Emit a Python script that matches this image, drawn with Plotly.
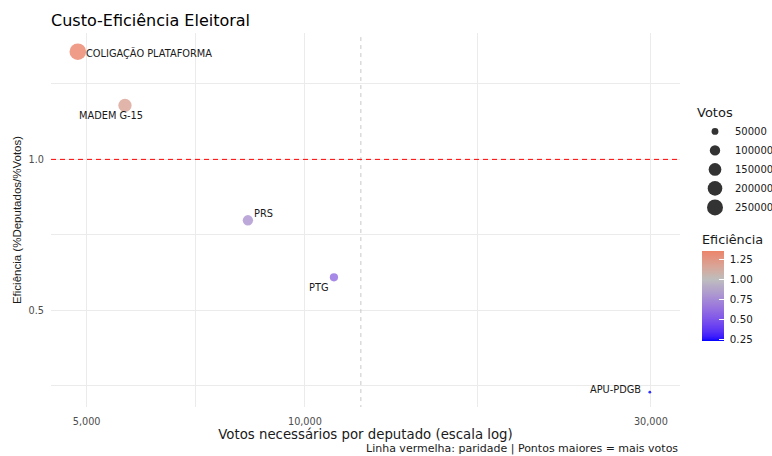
import numpy as np
import plotly.graph_objects as go

# ---------------- data ----------------
partidos = ["COLIGAÇÃO PLATAFORMA", "MADEM G-15", "PRS", "PTG", "APU-PDGB"]
votos_por_deputado = [4862, 5647, 8344, 10965, 29900]
eficiencia = [1.357, 1.179, 0.798, 0.609, 0.228]
votos = [262500, 163800, 100100, 65800, 29900]
legenda_votos = [50000, 100000, 150000, 200000, 250000]
x_ticks = [5000, 10000, 30000]
x_ticktext = ["5,000", "10,000", "30,000"]
y_ticks = [0.5, 1.0]
y_ticktext = ["0.5", "1.0"]
cb_ticks = [0.25, 0.50, 0.75, 1.00, 1.25]

# ---------------- styles ----------------
FONT = "DejaVu Sans, Liberation Sans, Arial, sans-serif"
VFONT = "Liberation Sans, Arial, Helvetica, sans-serif"
GRID = "#EBEBEB"
TXT = "#1a1a1a"
label_style = {
    "COLIGAÇÃO PLATAFORMA": dict(xanchor="left", xshift=6, yshift=-1),
    "MADEM G-15": dict(xanchor="center", xshift=-14, yshift=-10),
    "PRS": dict(xanchor="left", xshift=4, yshift=7),
    "PTG": dict(xanchor="right", xshift=-4, yshift=-10),
    "APU-PDGB": dict(xanchor="right", xshift=-7, yshift=3),
}


# ---- colour scale (gradient2 in Lab: blue - gray - red, midpoint 1) ----
def _lin(c):
    c = c / 255.0
    return c / 12.92 if c <= 0.04045 else ((c + 0.055) / 1.055) ** 2.4


def _gam(c):
    c = 12.92 * c if c <= 0.0031308 else 1.055 * c ** (1 / 2.4) - 0.055
    return int(round(min(max(c, 0), 1) * 255))


M = np.array([[0.4124, 0.3576, 0.1805], [0.2126, 0.7152, 0.0722], [0.0193, 0.1192, 0.9505]])
Mi = np.linalg.inv(M)
WN = np.array([0.95047, 1.0, 1.08883])


def rgb2lab(rgb):
    xyz = M @ np.array([_lin(c) for c in rgb]) / WN
    f = np.where(xyz > 216 / 24389, np.cbrt(xyz), (24389 / 27 * xyz + 16) / 116)
    return np.array([116 * f[1] - 16, 500 * (f[0] - f[1]), 200 * (f[1] - f[2])])


def lab2rgb(lab):
    fy = (lab[0] + 16) / 116
    fx = fy + lab[1] / 500
    fz = fy - lab[2] / 200
    f = np.array([fx, fy, fz])
    xyz = np.where(f ** 3 > 216 / 24389, f ** 3, (116 * f - 16) / (24389 / 27)) * WN
    lin = Mi @ xyz
    return "rgb(%d,%d,%d)" % tuple(_gam(c) for c in lin)


LOW, MID, HIGH = rgb2lab((0, 0, 255)), rgb2lab((190, 190, 190)), rgb2lab((255, 0, 0))
cmin, cmax = min(eficiencia), max(eficiencia)
ext = max(abs(cmin - 1), abs(cmax - 1))
colorscale = []
for p in np.linspace(0, 1, 41):
    v = cmin + p * (cmax - cmin)
    r = (v - 1) / (2 * ext) + 0.5
    if r <= 0.5:
        lab = LOW + (MID - LOW) * (r / 0.5)
    else:
        lab = MID + (HIGH - MID) * ((r - 0.5) / 0.5)
    colorscale.append([float(p), lab2rgb(lab)])

# ---- point size (area scale, like ggplot scale_size) ----
vmin, vmax = min(votos), max(votos)
K = 2.77


def diam(v):
    return K * (1 + 5 * np.sqrt(max(v - vmin, 0) / (vmax - vmin)))


fig = go.Figure()

# mean vertical reference line
mean_x = float(np.mean(votos_por_deputado))
fig.add_trace(go.Scatter(x=[mean_x, mean_x], y=[-5, 5], mode="lines",
                         line=dict(color="#C8C8C8", width=1, dash="4px,4px"),
                         showlegend=False, hoverinfo="skip"))

fig.add_trace(go.Scatter(
    x=votos_por_deputado, y=eficiencia, mode="markers",
    marker=dict(size=[diam(v) for v in votos], color=eficiencia,
                colorscale=colorscale, cmin=cmin, cmax=cmax, opacity=0.8,
                line=dict(width=0),
                colorbar=dict(
                    title=dict(text="Eficiência", side="top",
                               font=dict(size=12.8, color=TXT, family=FONT)),
                    x=(702 - 51) / 629, xanchor="left", xpad=0,
                    y=(407 - 341) / 374, yanchor="bottom", ypad=0,
                    len=110, lenmode="pixels", thickness=22,
                    outlinewidth=0, ticks="inside", ticklen=5, tickcolor="white",
                    tickwidth=1, tickvals=cb_ticks,
                    ticktext=["\u00a0%.2f" % t for t in cb_ticks],
                    tickfont=dict(size=10.3, color=TXT, family=FONT))),
    text=partidos, showlegend=False, hovertemplate="%{text}<extra></extra>"))

# size legend entries
for v in legenda_votos:
    fig.add_trace(go.Scatter(x=[None], y=[None], mode="markers", name=str(v),
                             marker=dict(size=diam(v), color="#333333"),
                             showlegend=True, legendgroup="votos"))

annotations = []
for name, xv, yv in zip(partidos, votos_por_deputado, eficiencia):
    st = label_style[name]
    annotations.append(dict(x=np.log10(xv), y=yv, xref="x", yref="y", text=name,
                            showarrow=False, xanchor=st["xanchor"], yanchor="middle",
                            xshift=st["xshift"], yshift=st["yshift"],
                            font=dict(size=9.8, color=TXT, family=FONT)))
annotations.append(dict(x=1, y=-(448.5 - 407) / 374, xref="paper", yref="paper",
                        text="Linha vermelha: paridade | Pontos maiores = mais votos",
                        showarrow=False, xanchor="right", yanchor="middle",
                        font=dict(size=11, color=TXT, family=FONT)))

fig.update_layout(
    width=772, height=456, autosize=False,
    margin=dict(l=51, r=92, t=33, b=49, autoexpand=False),
    paper_bgcolor="white", plot_bgcolor="white",
    font=dict(family=FONT, color=TXT),
    title=dict(text="Custo-Eficiência Eleitoral", x=51 / 772, xanchor="left",
               y=1 - 20 / 456, yanchor="middle", xref="container",
               font=dict(size=16, color="black", family=FONT)),
    shapes=[dict(type="line", xref="paper", yref="y", x0=0, x1=1, y0=1.0, y1=1.0,
                 line=dict(color="red", width=1, dash="5px,4px"), layer="above")],
    annotations=annotations,
    legend=dict(title=dict(text="Votos", font=dict(size=13, color=TXT, family=FONT)),
                x=(695 - 51) / 629, xanchor="left", y=(407 - 100) / 374, yanchor="top",
                itemsizing="trace", tracegroupgap=0, bgcolor="rgba(0,0,0,0)",
                font=dict(size=10, color=TXT, family=FONT)),
)

fig.update_xaxes(type="log", range=[3.6498, 4.5173], tickvals=x_ticks, ticktext=x_ticktext,
                 showgrid=True, gridcolor=GRID, gridwidth=1.1, zeroline=False, showline=False,
                 ticks="", automargin=False, ticklabelstandoff=7,
                 tickfont=dict(size=9.7, color="#4D4D4D", family=FONT),
                 minor=dict(tickvals=[7071, 17320], showgrid=True, gridcolor=GRID, gridwidth=0.8),
                 title=dict(text="Votos necessários por deputado (escala log)", standoff=3,
                            font=dict(size=13.3, color=TXT, family=FONT)))
fig.update_yaxes(range=[0.179, 1.419], tickvals=y_ticks, ticktext=y_ticktext,
                 showgrid=True, gridcolor=GRID, gridwidth=1.1, zeroline=False, showline=False,
                 ticks="", automargin=False, ticklabelstandoff=6,
                 tickfont=dict(size=9.7, color="#4D4D4D", family=FONT),
                 minor=dict(tickvals=[0.25, 0.75, 1.25], showgrid=True, gridcolor=GRID, gridwidth=0.8),
                 title=dict(text="Eficiência (%Deputados/%Votos)", standoff=4,
                            font=dict(size=11.5, color=TXT, family=VFONT)))

fig.write_html("out.html")
